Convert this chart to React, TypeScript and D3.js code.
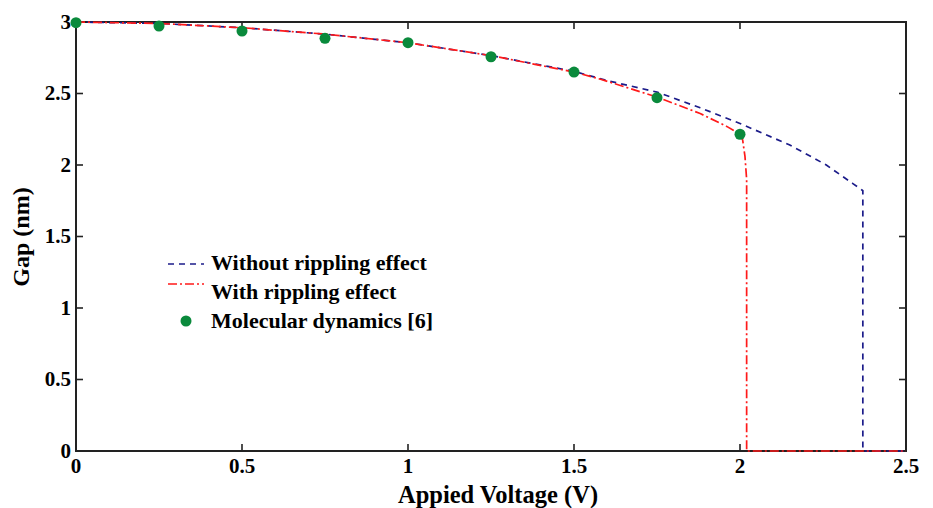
import React from "react";
import * as d3 from "d3";

const xTicks = [0, 0.5, 1, 1.5, 2, 2.5];
const yTicks = [0, 0.5, 1, 1.5, 2, 2.5, 3];
const xTickLabels = ["0", "0.5", "1", "1.5", "2", "2.5"];
const yTickLabels = ["0", "0.5", "1", "1.5", "2", "2.5", "3"];

const withoutX = [0, 0.25, 0.5, 0.75, 1.0, 1.25, 1.5, 1.6, 1.75, 1.88, 2.0, 2.15, 2.26, 2.34, 2.365, 2.37, 2.37, 2.5];
const withoutY = [3.0, 2.99, 2.96, 2.915, 2.855, 2.765, 2.655, 2.59, 2.51, 2.4, 2.29, 2.14, 2.0, 1.87, 1.83, 1.82, 0, 0];

const withX = [0, 0.25, 0.5, 0.75, 1.0, 1.25, 1.5, 1.58, 1.75, 1.88, 1.96, 2.0, 2.008, 2.015, 2.02, 2.02, 2.5];
const withY = [3.0, 2.99, 2.96, 2.915, 2.855, 2.765, 2.65, 2.6, 2.475, 2.36, 2.27, 2.215, 2.175, 2.06, 1.9, 0, 0];

const mdX = [0, 0.25, 0.5, 0.75, 1.0, 1.25, 1.5, 1.75, 2.0];
const mdY = [2.995, 2.972, 2.937, 2.886, 2.855, 2.757, 2.65, 2.471, 2.215];

const legendLabels = ["Without rippling effect", "With rippling effect", "Molecular dynamics [6]"];

const W = 933;
const H = 508;
const L = 76, R = 906, T = 22, B = 451;
const FONT = "'Liberation Serif', 'Times New Roman', serif";
const BLUE = "#1c1c8a";
const RED = "#ff1a1a";
const GREEN = "#0a8a3c";

export default function App() {
  const x = d3.scaleLinear().domain([0, 2.5]).range([L, R]);
  const y = d3.scaleLinear().domain([0, 3]).range([B, T]);
  const line = d3.line<[number, number]>().x(d => x(d[0])).y(d => y(d[1]));
  const withoutPts = withoutX.map((v, i) => [v, withoutY[i]] as [number, number]);
  const withPts = withX.map((v, i) => [v, withY[i]] as [number, number]);
  const tickLen = 7;
  const tickFs = 21;
  const legFs = 22;

  return (
    <div style={{ position: "absolute", left: 0, top: 0 }}>
      <svg width={W} height={H} style={{ display: "block", background: "#fff" }}>
        <rect x={L} y={T} width={R - L} height={B - T} fill="none" stroke="#222" strokeWidth={2} />
        {xTicks.map((t, i) => (
          <g key={"xt" + i}>
            <line x1={x(t)} x2={x(t)} y1={B} y2={B - tickLen} stroke="#222" strokeWidth={1.6} />
            <line x1={x(t)} x2={x(t)} y1={T} y2={T + tickLen} stroke="#222" strokeWidth={1.6} />
            <text x={x(t)} y={473} textAnchor="middle" fontFamily={FONT} fontWeight="bold" fontSize={tickFs}>{xTickLabels[i]}</text>
          </g>
        ))}
        {yTicks.map((t, i) => (
          <g key={"yt" + i}>
            <line x1={L} x2={L + tickLen} y1={y(t)} y2={y(t)} stroke="#222" strokeWidth={1.6} />
            <line x1={R} x2={R - tickLen} y1={y(t)} y2={y(t)} stroke="#222" strokeWidth={1.6} />
            <text x={L - 5} y={y(t) + 6.5} textAnchor="end" fontFamily={FONT} fontWeight="bold" fontSize={tickFs}>{yTickLabels[i]}</text>
          </g>
        ))}
        <path d={line(withoutPts) || ""} fill="none" stroke={BLUE} strokeWidth={1.7} strokeDasharray="6,5" />
        <path d={line(withPts) || ""} fill="none" stroke={RED} strokeWidth={1.7} strokeDasharray="9,3,2,3" />
        {mdX.map((v, i) => (
          <circle key={i} cx={x(v)} cy={y(mdY[i])} r={5.5} fill={GREEN} />
        ))}
        <text x={498} y={503} textAnchor="middle" fontFamily={FONT} fontWeight="bold" fontSize={24.5}>Appied Voltage (V)</text>
        <text transform={`translate(29,237) rotate(-90)`} textAnchor="middle" fontFamily={FONT} fontWeight="bold" fontSize={24}>Gap (nm)</text>
        <g>
          <line x1={168} x2={204} y1={264} y2={264} stroke={BLUE} strokeWidth={1.7} strokeDasharray="6,5" />
          <text x={211} y={270} fontFamily={FONT} fontWeight="bold" fontSize={legFs}>{legendLabels[0]}</text>
          <line x1={168} x2={204} y1={284} y2={284} stroke={RED} strokeWidth={1.7} strokeDasharray="9,3,2,3" />
          <text x={211} y={299} fontFamily={FONT} fontWeight="bold" fontSize={legFs}>{legendLabels[1]}</text>
          <circle cx={186} cy={321} r={5.5} fill={GREEN} />
          <text x={211} y={328} fontFamily={FONT} fontWeight="bold" fontSize={legFs}>{legendLabels[2]}</text>
        </g>
      </svg>
    </div>
  );
}
